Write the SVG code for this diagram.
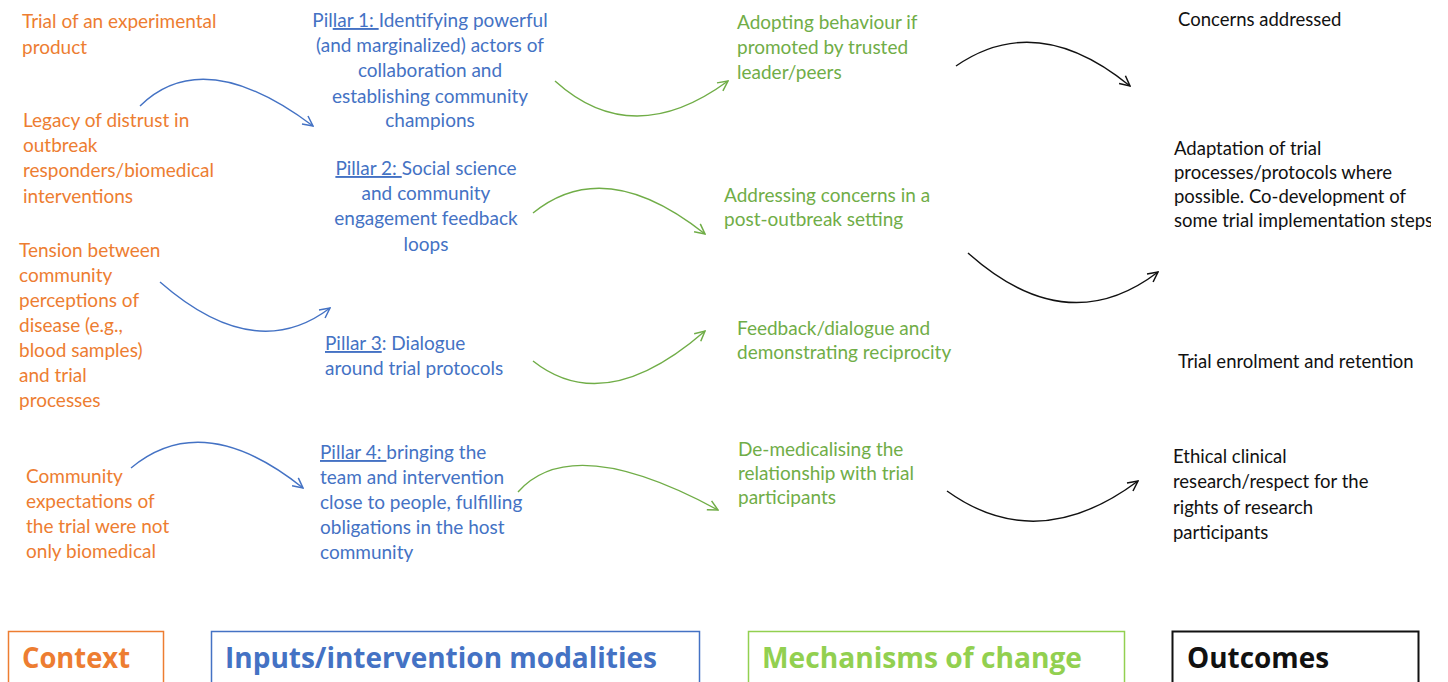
<svg xmlns="http://www.w3.org/2000/svg" width="1448" height="682" viewBox="0 0 1448 682">
  <style>
    text { font-family: Lato, "Open Sans", "Liberation Sans", sans-serif; font-size: 19px; }
    .ctx { fill: #ED7D31; }
    .inp { fill: #4472C4; }
    .mech { fill: #70AD47; }
    .out { fill: #111111; font-size: 18.5px; }
    .mid { text-anchor: middle; }
    .u { text-decoration: underline; }
    .hdr { font-family: "Open Sans", Lato, "Liberation Sans", sans-serif; font-weight: bold; font-size: 28px; }
    .arc { fill: none; stroke-width: 1.4; }
  </style>
  <defs>
    <marker id="headBlue" viewBox="0 0 12 12" refX="11" refY="6" markerWidth="12" markerHeight="12" markerUnits="userSpaceOnUse" orient="auto">
      <path d="M1,1 L11,6 L1,11" fill="none" stroke="#4472C4" stroke-width="1.5"/>
    </marker>
    <marker id="headGreen" viewBox="0 0 12 12" refX="11" refY="6" markerWidth="12" markerHeight="12" markerUnits="userSpaceOnUse" orient="auto">
      <path d="M1,1 L11,6 L1,11" fill="none" stroke="#70AD47" stroke-width="1.5"/>
    </marker>
    <marker id="headBlack" viewBox="0 0 12 12" refX="11" refY="6" markerWidth="12" markerHeight="12" markerUnits="userSpaceOnUse" orient="auto">
      <path d="M1,1 L11,6 L1,11" fill="none" stroke="#111111" stroke-width="1.5"/>
    </marker>
    <clipPath id="pageClip"><rect x="0" y="0" width="1431" height="682"/></clipPath>
  </defs>

  <rect x="0" y="0" width="1448" height="682" fill="#ffffff"/>

  <!-- Context -->
  <g id="ctx-trial">
    <text class="ctx" x="22" y="28">Trial of an experimental</text>
    <text class="ctx" x="22" y="54">product</text>
  </g>
  <g id="ctx-distrust">
    <text class="ctx" x="23" y="127">Legacy of distrust in</text>
    <text class="ctx" x="23" y="152">outbreak</text>
    <text class="ctx" x="23" y="177">responders/biomedical</text>
    <text class="ctx" x="23" y="203">interventions</text>
  </g>
  <g id="ctx-tension">
    <text class="ctx" x="19" y="257">Tension between</text>
    <text class="ctx" x="19" y="282">community</text>
    <text class="ctx" x="19" y="307">perceptions of</text>
    <text class="ctx" x="19" y="332">disease (e.g.,</text>
    <text class="ctx" x="19" y="357">blood samples)</text>
    <text class="ctx" x="19" y="382">and trial</text>
    <text class="ctx" x="19" y="407">processes</text>
  </g>
  <g id="ctx-expectations">
    <text class="ctx" x="26" y="483">Community</text>
    <text class="ctx" x="26" y="508">expectations of</text>
    <text class="ctx" x="26" y="533">the trial were not</text>
    <text class="ctx" x="26" y="558">only biomedical</text>
  </g>

  <!-- Inputs / intervention modalities -->
  <g id="pillar1">
    <text class="inp mid" x="430" y="27">Pil<tspan class="u">lar 1: </tspan>Identifying powerful</text>
    <text class="inp mid" x="430" y="52">(and marginalized) actors of</text>
    <text class="inp mid" x="430" y="77">collaboration and</text>
    <text class="inp mid" x="430" y="103">establishing community</text>
    <text class="inp mid" x="430" y="127">champions</text>
  </g>
  <g id="pillar2">
    <text class="inp mid" x="426" y="175"><tspan class="u">Pillar 2: </tspan>Social science</text>
    <text class="inp mid" x="426" y="200">and community</text>
    <text class="inp mid" x="426" y="225">engagement feedback</text>
    <text class="inp mid" x="426" y="251">loops</text>
  </g>
  <g id="pillar3">
    <text class="inp" x="325" y="350"><tspan class="u">Pillar 3</tspan>: Dialogue</text>
    <text class="inp" x="325" y="375">around trial protocols</text>
  </g>
  <g id="pillar4">
    <text class="inp" x="320" y="459"><tspan class="u">Pillar 4: </tspan>bringing the</text>
    <text class="inp" x="320" y="484">team and intervention</text>
    <text class="inp" x="320" y="509">close to people, fulfilling</text>
    <text class="inp" x="320" y="534">obligations in the host</text>
    <text class="inp" x="320" y="559">community</text>
  </g>

  <!-- Mechanisms of change -->
  <g id="mech-adopting">
    <text class="mech" x="737" y="29">Adopting behaviour if</text>
    <text class="mech" x="737" y="54">promoted by trusted</text>
    <text class="mech" x="737" y="79">leader/peers</text>
  </g>
  <g id="mech-concerns">
    <text class="mech" x="724" y="202">Addressing concerns in a</text>
    <text class="mech" x="724" y="226">post-outbreak setting</text>
  </g>
  <g id="mech-feedback">
    <text class="mech" x="737" y="335">Feedback/dialogue and</text>
    <text class="mech" x="737" y="359">demonstrating reciprocity</text>
  </g>
  <g id="mech-demedicalising">
    <text class="mech" x="738" y="456">De-medicalising the</text>
    <text class="mech" x="738" y="480">relationship with trial</text>
    <text class="mech" x="738" y="504">participants</text>
  </g>

  <!-- Outcomes -->
  <g id="out-concerns">
    <text class="out" x="1178" y="26">Concerns addressed</text>
  </g>
  <g id="out-adaptation" clip-path="url(#pageClip)">
    <text class="out" x="1174" y="155">Adaptation of trial</text>
    <text class="out" x="1174" y="179">processes/protocols where</text>
    <text class="out" x="1174" y="203">possible. Co-development of</text>
    <text class="out" x="1174" y="227">some trial implementation steps</text>
  </g>
  <g id="out-enrolment">
    <text class="out" x="1178" y="368">Trial enrolment and retention</text>
  </g>
  <g id="out-ethical">
    <text class="out" x="1173" y="463">Ethical clinical</text>
    <text class="out" x="1173" y="488">research/respect for the</text>
    <text class="out" x="1173" y="514">rights of research</text>
    <text class="out" x="1173" y="539">participants</text>
  </g>

  <!-- Connectors -->
  <g id="connectors">
    <path class="arc" stroke="#4472C4" marker-end="url(#headBlue)" d="M140,106 Q203.5,44 313,126"/>
    <path class="arc" stroke="#4472C4" marker-end="url(#headBlue)" d="M160,282 Q255,365 330,308"/>
    <path class="arc" stroke="#4472C4" marker-end="url(#headBlue)" d="M131,468 Q203,408 303,488"/>

    <path class="arc" stroke="#70AD47" marker-end="url(#headGreen)" d="M555,81 Q632.5,151 728,81"/>
    <path class="arc" stroke="#70AD47" marker-end="url(#headGreen)" d="M533,213 Q605,154.5 705,234"/>
    <path class="arc" stroke="#70AD47" marker-end="url(#headGreen)" d="M533,361 Q605,418 705,331"/>
    <path class="arc" stroke="#70AD47" marker-end="url(#headGreen)" d="M518,492 Q572,431 718,510"/>

    <path class="arc" stroke="#111111" marker-end="url(#headBlack)" d="M956,66 Q1037,10 1130,86"/>
    <path class="arc" stroke="#111111" marker-end="url(#headBlack)" d="M968,253 Q1067,341.5 1158,272"/>
    <path class="arc" stroke="#111111" marker-end="url(#headBlack)" d="M947,491 Q1037.5,556 1138,481"/>
  </g>

  <!-- Column headers -->
  <g id="hdr-context">
    <rect x="8.5" y="631.5" width="155" height="60" fill="#ffffff" stroke="#ED7D31" stroke-width="1.5"/>
    <text class="hdr" x="22" y="668" fill="#ED7D31" textLength="108" lengthAdjust="spacingAndGlyphs">Context</text>
  </g>
  <g id="hdr-inputs">
    <rect x="211.5" y="631.5" width="488" height="60" fill="#ffffff" stroke="#4472C4" stroke-width="1.5"/>
    <text class="hdr" x="225" y="668" fill="#4472C4" textLength="432" lengthAdjust="spacingAndGlyphs">Inputs/intervention modalities</text>
  </g>
  <g id="hdr-mechanisms">
    <rect x="748.5" y="631.5" width="376" height="60" fill="#ffffff" stroke="#92D050" stroke-width="1.5"/>
    <text class="hdr" x="762" y="668" fill="#92D050" textLength="320" lengthAdjust="spacingAndGlyphs">Mechanisms of change</text>
  </g>
  <g id="hdr-outcomes">
    <rect x="1172.5" y="631.5" width="246" height="60" fill="#ffffff" stroke="#111111" stroke-width="2"/>
    <text class="hdr" x="1187" y="668" fill="#111111" textLength="142" lengthAdjust="spacingAndGlyphs">Outcomes</text>
  </g>
</svg>
